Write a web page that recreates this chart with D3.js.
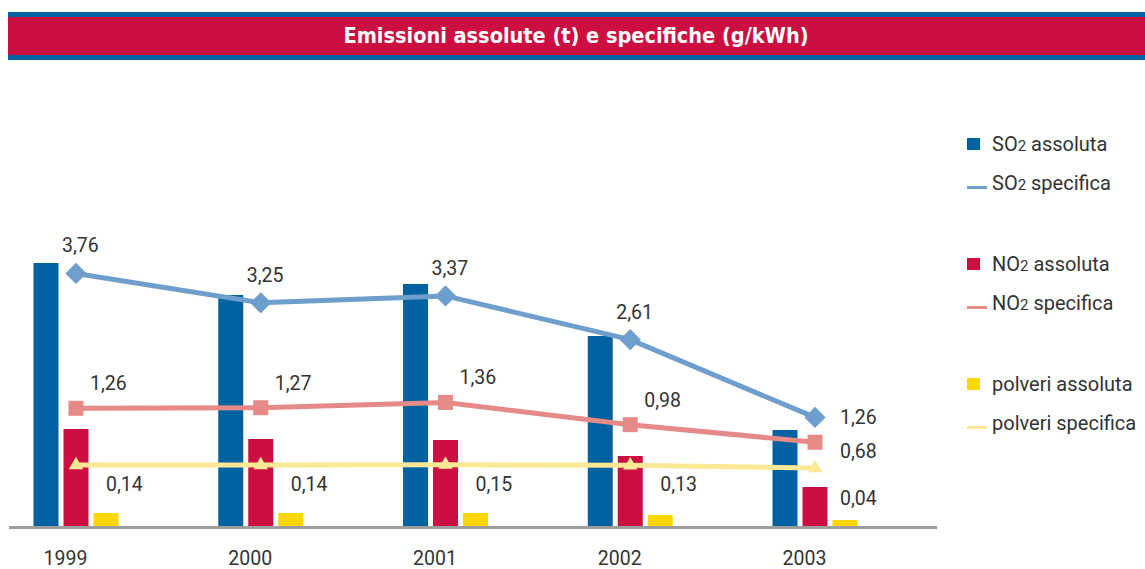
<!DOCTYPE html>
<html>
<head>
<meta charset="utf-8">
<script src="https://cdn.jsdelivr.net/npm/d3@7/dist/d3.min.js"></script>
<style>
  body { margin: 0; background: #fff; }
  svg { display: block; }
  .lbl { font-family: Roboto, "Noto Sans", sans-serif; fill: #333; font-size: 19.5px; }
</style>
</head>
<body>
<div id="chart"></div>
<script>
// anni
var years = ["1999", "2000", "2001", "2002", "2003"];

var so2Abs = [26300, 23100, 24200, 19000, 9600];
var no2Abs = [9700, 8700, 8600, 7000, 3900];
var polvAbs = [1300, 1300, 1300, 1100, 600];

// emissioni specifiche (g/kWh)
var so2Spec = [3.76, 3.25, 3.37, 2.61, 1.26];
var no2Spec = [1.26, 1.27, 1.36, 0.98, 0.68];
var polvSpec = [0.14, 0.14, 0.15, 0.13, 0.04];

var title = "Emissioni assolute (t) e specifiche (g/kWh)";

var W = 1145, H = 569;
var baseY = 526;

var svg = d3.select("#chart").append("svg")
    .attr("width", W)
    .attr("height", H);

// --- banda titolo
svg.append("rect").attr("x", 8).attr("y", 12).attr("width", W - 8).attr("height", 48).attr("fill", "#0062a0");
svg.append("rect").attr("x", 8).attr("y", 17).attr("width", W - 8).attr("height", 38).attr("fill", "#cc0f40");
svg.append("text")
    .attr("x", 576)
    .attr("y", 43)
    .attr("text-anchor", "middle")
    .style("font-family", "'DejaVu Sans Condensed', 'DejaVu Sans', sans-serif")
    .style("font-size", "21.5px")
    .style("font-weight", "bold")
    .attr("fill", "#fff")
    .text(title);

// --- scale
var x = d3.scalePoint().domain(years).range([76, 815]);
var inner = d3.scaleBand().domain(["so2", "no2", "polv"]).range([-42.5, 42.5]).paddingInner(1 / 6);
var yAbs = d3.scaleLinear().domain([0, 30000]).range([baseY, baseY - 300]);

// ogni serie specifica ha la sua scala (il grafico originale non usa un asse comune)
var ySo2 = d3.scaleLinear().domain([0, 4]).range([490, 259.6]);
var yNo2 = d3.scaleLinear().domain([0, 2]).range([482, 365]);
var yPolv = d3.scaleLinear().domain([0, 1]).range([469.2, 439.2]);

var barSeries = [
  {key: "so2", vals: so2Abs, color: "#0062a0"},
  {key: "no2", vals: no2Abs, color: "#cc0f40"},
  {key: "polv", vals: polvAbs, color: "#fdd800"}
];

var g = svg.append("g");

barSeries.forEach(function(s) {
  g.selectAll(".bar-" + s.key)
      .data(s.vals)
    .enter().append("rect")
      .attr("class", "bar-" + s.key)
      .attr("x", function(d, i) { return x(years[i]) + inner(s.key); })
      .attr("width", inner.bandwidth())
      .attr("y", function(d) { return yAbs(d); })
      .attr("height", function(d) { return baseY - yAbs(d); })
      .attr("fill", s.color);
});

// asse x
g.append("line")
    .attr("x1", 9).attr("x2", 937)
    .attr("y1", baseY + 1.5).attr("y2", baseY + 1.5)
    .attr("stroke", "#9d9d9d")
    .attr("stroke-width", 3);

var xAxis = g.append("g")
    .attr("transform", "translate(0," + baseY + ")")
    .call(d3.axisBottom(x).tickSize(0).tickPadding(0));
xAxis.select(".domain").remove();
xAxis.selectAll("text")
    .attr("class", "lbl")
    .attr("dx", -11)
    .attr("dy", 0)
    .attr("y", 39)
    .style("font-size", "19.5px")
    .style("font-family", "Roboto, sans-serif")
    .attr("fill", "#333");

// linee specifiche
var lineSeries = [
  {key: "so2", vals: so2Spec, y: ySo2, color: "#6e9ecb", sym: "diamond", lx: -14, ly: -21, lastLy: 7},
  {key: "no2", vals: no2Spec, y: yNo2, color: "#e68a87", sym: "square", lx: 14, ly: -18, lastLy: 16},
  {key: "polv", vals: polvSpec, y: yPolv, color: "#fde896", sym: "triangle", lx: 30, ly: 26, lastLy: 37}
];

var fmt = function(v) { return d3.format(".2f")(v).replace(".", ","); };

lineSeries.forEach(function(s) {
  var line = d3.line()
      .x(function(d, i) { return x(years[i]); })
      .y(function(d) { return s.y(d); });

  g.append("path")
      .datum(s.vals)
      .attr("d", line)
      .attr("fill", "none")
      .attr("stroke", s.color)
      .attr("stroke-width", 5);

  var symType = s.sym == "triangle" ? d3.symbolTriangle : d3.symbolSquare;
  var symSize = s.sym == "triangle" ? 90 : 225;
  g.selectAll(".pt-" + s.key)
      .data(s.vals)
    .enter().append("path")
      .attr("class", "pt-" + s.key)
      .attr("d", d3.symbol().type(symType).size(symSize))
      .attr("transform", function(d, i) {
        return "translate(" + x(years[i]) + "," + s.y(d) + ")" + (s.sym == "diamond" ? " rotate(45)" : "");
      })
      .attr("fill", s.color);

  g.selectAll(".val-" + s.key)
      .data(s.vals)
    .enter().append("text")
      .attr("class", "lbl")
      .attr("x", function(d, i) { return x(years[i]) + (i == years.length - 1 ? 25 : s.lx); })
      .attr("y", function(d, i) { return s.y(d) + (i == years.length - 1 ? s.lastLy : s.ly); })
      .text(fmt);
});

// legenda
var legendItems = [
  {pre: "SO", sub: "2", post: " assoluta", type: "bar", color: "#0062a0"},
  {pre: "SO", sub: "2", post: " specifica", type: "line", color: "#6e9ecb"},
  {pre: "NO", sub: "2", post: " assoluta", type: "bar", color: "#cc0f40"},
  {pre: "NO", sub: "2", post: " specifica", type: "line", color: "#e68a87"},
  {pre: "polveri assoluta", sub: "", post: "", type: "bar", color: "#fdd800"},
  {pre: "polveri specifica", sub: "", post: "", type: "line", color: "#fde896"}
];

var leg = svg.append("g").attr("transform", "translate(967,0)");
legendItems.forEach(function(d, i) {
  var by = 151 + Math.floor(i / 2) * 120 + (i % 2) * 39;
  if (d.type == "bar") {
    leg.append("rect").attr("x", 0).attr("y", by - 13).attr("width", 13).attr("height", 12).attr("fill", d.color);
  } else {
    leg.append("rect").attr("x", 0).attr("y", by - 4).attr("width", 20).attr("height", 3).attr("fill", d.color);
  }
  var t = leg.append("text")
      .attr("class", "lbl")
      .attr("x", 25)
      .attr("y", by)
      .style("font-size", "20px");
  t.append("tspan").text(d.pre);
  if (d.sub) t.append("tspan").style("font-size", "15px").text(d.sub);
  if (d.post) t.append("tspan").text(d.post);
});
</script>
</body>
</html>
